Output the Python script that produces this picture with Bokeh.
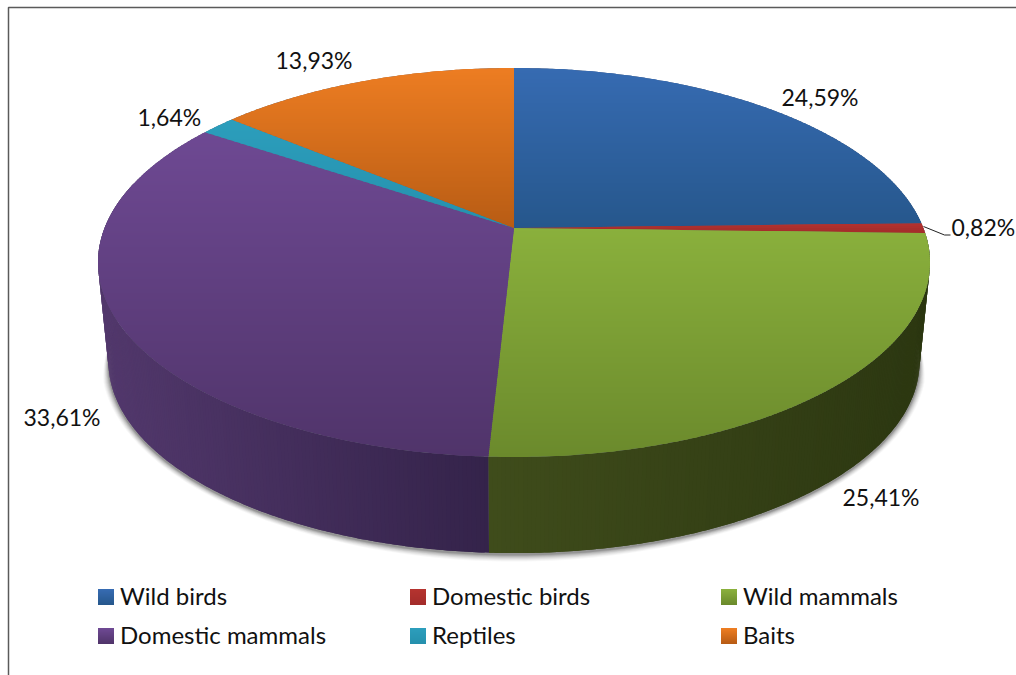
import numpy as np
from bokeh.core.properties import value
from bokeh.embed import file_html
from bokeh.models import ColumnDataSource
from bokeh.plotting import figure
from bokeh.resources import INLINE

# Chart data
categories = ["Wild birds", "Domestic birds", "Wild mammals", "Domestic mammals", "Reptiles", "Baits"]
shares = [24.59, 0.82, 25.41, 33.61, 1.64, 13.93]

# Lid shading: colour at the top and at the bottom of each slice
lid_top = ["#366bb2", "#b5332f", "#8ab03c", "#6e4993", "#2c9ebc", "#ed7d22"]
lid_bottom = ["#26578c", "#a32c2a", "#6b8a2c", "#50346a", "#2590ad", "#b85c14"]
# Rim shading: colour at the left and right of each slice's visible wall
rim_left = ["#1f3f66", "#6e1f1d", "#3f4c1b", "#52386c", "#1b5a6d", "#7d3f0e"]
rim_right = ["#1f3f66", "#6e1f1d", "#2c3711", "#34234a", "#1b5a6d", "#7d3f0e"]

# Where the pie sits on the page and how it is foreshortened
APEX_X, APEX_Y = 513.5, 227.5
SCALE_X, SCALE_Y, TILT = 409.4, 188.4, 0.1773
LID_CY, BASE_CY = 262.0, 361.0
BASE_SX, BASE_SY = 0.975, 0.985
FONT = "Lato"


def hex_rgb(c):
    return np.array([int(c[i:i + 2], 16) for i in (1, 3, 5)], dtype=float)


def mix(a, b, t):
    t = min(max(t, 0.0), 1.0)
    r = hex_rgb(a) * (1 - t) + hex_rgb(b) * t
    return "#%02x%02x%02x" % tuple(int(round(v)) for v in r)


def lid_point(theta):
    """Project an angle, clockwise from twelve o'clock, onto the tilted lid."""
    s, c = np.sin(theta), np.cos(theta)
    w = 1 + TILT * c
    return APEX_X + SCALE_X * s / w, APEX_Y - SCALE_Y * c / w


def base_point(theta, grow=0.0):
    x, y = lid_point(theta)
    bx = APEX_X + (x - APEX_X) * BASE_SX
    by = BASE_CY + (y - LID_CY) * BASE_SY
    if grow:
        dx, dy = bx - APEX_X, by - BASE_CY
        n = np.hypot(dx, dy)
        bx += dx / n * grow
        by += dy / n * grow
    return bx, by


def clip_band(pts, y0, y1):
    """Cut a polygon down to the horizontal band y0..y1."""
    def clip(poly, keep, cross):
        out = []
        for i in range(len(poly)):
            a, b = poly[i], poly[(i + 1) % len(poly)]
            ka, kb = keep(a), keep(b)
            if ka:
                out.append(a)
            if ka != kb:
                t = (cross - a[1]) / (b[1] - a[1])
                out.append((a[0] + (b[0] - a[0]) * t, cross))
        return out
    res = clip(pts, lambda p: p[1] >= y0, y0)
    if res:
        res = clip(res, lambda p: p[1] <= y1, y1)
    return res


p = figure(width=1016, height=675, x_range=(0, 1016), y_range=(675, 0),
           toolbar_location=None, output_backend="svg", min_border=0,
           outline_line_color=None, background_fill_color="white")
p.axis.visible = False
p.grid.visible = False

# Page frame along the left and top edges
p.line([8, 8, 1016], [675, 7, 7], line_color="#5a5a5a", line_width=1.5)

# Soft shadow under the front of the base, thinning out towards both ends
SHADOW_FROM, SHADOW_TO = 92.0, 268.0
for grow, alpha in [(7, 0.03), (6, 0.04), (5, 0.05), (4, 0.06), (3, 0.08), (2, 0.10), (1, 0.14)]:
    deg = np.linspace(SHADOW_FROM, SHADOW_TO, 180)
    taper = np.clip(np.minimum(deg - SHADOW_FROM, SHADOW_TO - deg) / 14.0, 0, 1)
    pts = [base_point(np.radians(d), grow * k + 0.01) for d, k in zip(deg, taper)]
    p.patch([q[0] for q in pts], [q[1] + 1.5 * k for q, k in zip(pts, taper)],
            fill_color="#000000", fill_alpha=alpha, line_color=None)

edges = np.radians(np.cumsum([0] + shares) * 3.6)

# Visible wall: narrow quads, each reaching over the next so no seam shows
wall_xs, wall_ys, wall_cols = [], [], []
VIS_FROM, VIS_TO = np.radians(92), np.radians(284)
for i in range(len(categories)):
    a, b = max(edges[i], VIS_FROM), min(edges[i + 1], VIS_TO)
    if b <= a:
        continue
    steps = np.linspace(a, b, max(2, int(np.degrees(b - a) * 2) + 1))
    xs = [base_point(t)[0] for t in steps]
    lo, hi = min(xs), max(xs)
    for t0, t1, t2 in zip(steps[:-1], steps[1:], np.append(steps[2:], b)):
        p0, p2 = lid_point(t0), lid_point(t2)
        pm = lid_point(t1)
        q0, q2 = base_point(t0), base_point(t2)
        qm = base_point(t1)
        wall_xs.append([p0[0], pm[0], p2[0], q2[0], qm[0], q0[0]])
        wall_ys.append([p0[1], pm[1], p2[1], q2[1], qm[1], q0[1]])
        wall_cols.append(mix(rim_left[i], rim_right[i], (qm[0] - lo) / (hi - lo)))
p.patches(wall_xs, wall_ys, fill_color=wall_cols, line_color=None)

# Backing disc so that slice joins never let the white page through
disc = [lid_point(t) for t in np.radians(np.linspace(0, 360, 361))]
p.patch([q[0] for q in disc], [q[1] for q in disc], fill_color="#5c6070", line_color=None)

# Lid: each slice cut into pixel-aligned bands for its vertical shading.
# Every band also covers the row below it; the next band paints over that.
lid_xs, lid_ys, lid_cols = [], [], []
for i in range(len(categories)):
    arc = np.linspace(edges[i], edges[i + 1], max(4, int(shares[i] * 8)))
    poly = [(APEX_X, APEX_Y)] + [lid_point(t) for t in arc]
    ys = [q[1] for q in poly]
    top, bottom = min(ys), max(ys)
    rows = np.arange(np.floor(top), np.ceil(bottom) + 1, 2.0)
    for y0 in rows:
        band = clip_band(poly, y0 - 0.5, y0 + 2.5)
        if len(band) < 3:
            continue
        col = mix(lid_top[i], lid_bottom[i], (y0 + 1 - top) / (bottom - top))
        lid_xs.append([q[0] for q in band])
        lid_ys.append([q[1] for q in band])
        lid_cols.append(col)
p.patches(lid_xs, lid_ys, fill_color=lid_cols, line_color=None)

# Value labels
label_x = [781, 951, 842, 23, 137, 275]
label_y = [96, 226, 496, 416, 116, 59]
labels = [("%.2f%%" % v).replace(".", ",") for v in shares]
src = ColumnDataSource(dict(x=label_x, y=label_y, t=labels))
p.text("x", "y", text="t", source=src, text_font=value(FONT), text_font_size="23px",
       text_color="#111111", text_baseline="middle", text_align="left")

# Leader line for the thin slice
p.line([923, 944, 950], [226, 234.5, 234.5], line_color="#222222", line_width=1)

# Legend: swatches with the same shading as the lid, then names
legend_x = [98, 410, 721, 98, 410, 721]
legend_y = [589, 589, 589, 628, 628, 628]
SW = 16
sw_xs, sw_ys, sw_cols = [], [], []
for i in range(len(categories)):
    x0 = legend_x[i] - 0.5
    for k in range(SW):
        y0 = legend_y[i] + k - 0.5
        y1 = legend_y[i] + SW - 0.5
        sw_xs.append([x0, x0 + SW, x0 + SW, x0])
        sw_ys.append([y0, y0, y1, y1])
        sw_cols.append(mix(lid_top[i], lid_bottom[i], k / (SW - 1)))
p.patches(sw_xs, sw_ys, fill_color=sw_cols, line_color=None)
src2 = ColumnDataSource(dict(x=[v + 21.5 for v in legend_x], y=[v + 5.5 for v in legend_y], t=categories))
p.text("x", "y", text="t", source=src2, text_font=value(FONT), text_font_size="24px",
       text_color="#111111", text_baseline="middle", text_align="left")

open("out.html", "w").write(file_html(p, INLINE))
